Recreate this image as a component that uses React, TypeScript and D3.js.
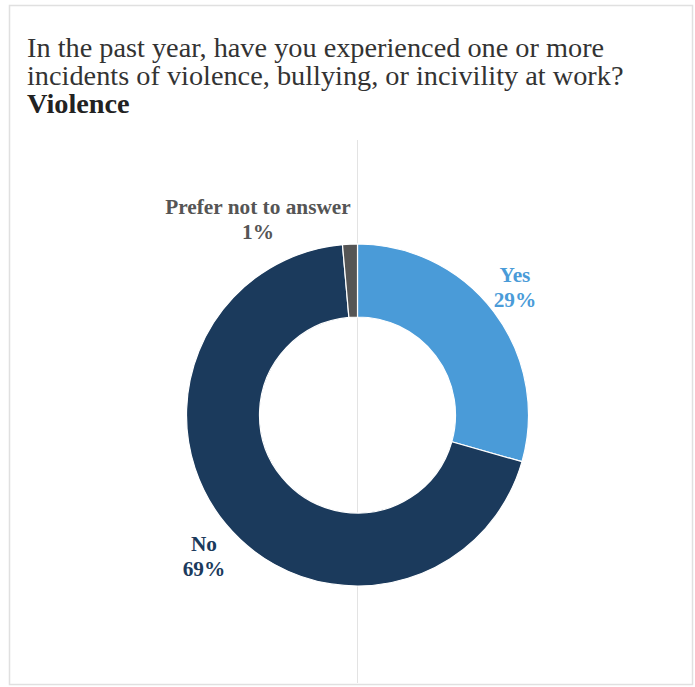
import React from "react";
import * as d3 from "d3";

const categories = ["Yes", "No", "Prefer not to answer"];
const values = [29.4, 69.2, 1.4];
const colors = ["#4a9bd8", "#1b3a5c", "#555555"];
const titleLines = [
  "In the past year, have you experienced one or more",
  "incidents of violence, bullying, or incivility at work?",
];
const subtitle = "Violence";

const W = 695;
const H = 687;
const cx = 357.5;
const cy = 415;
const outerR = 171;
const innerR = 98;

export default function App() {
  const data = categories.map((c, i) => ({ name: c, value: values[i], color: colors[i] }));
  const pie = d3.pie<any>().sort(null).value((d) => d.value);
  const arcs = pie(data);
  const arcGen = d3.arc<any>().innerRadius(innerR).outerRadius(outerR);

  const labelPos: Record<string, [number, number]> = {
    Yes: [515, 282],
    No: [204, 551],
    "Prefer not to answer": [258, 214],
  };

  return (
    <svg
      width={W}
      height={H}
      style={{ position: "absolute", left: 0, top: 0, background: "#fff" }}
      fontFamily="'Liberation Serif', 'Times New Roman', serif"
    >
      <rect x={9.5} y={5.5} width={683} height={679} fill="#fff" stroke="#e0e0e0" strokeWidth={1.5} />
      <line x1={cx} x2={cx} y1={140} y2={683} stroke="#e3e3e3" strokeWidth={1} />
      {titleLines.map((t, i) => (
        <text key={i} x={27} y={57 + i * 28} fontSize={28.3} fill="#333">
          {t}
        </text>
      ))}
      <text x={27} y={113} fontSize={28.3} fontWeight="bold" fill="#222">
        {subtitle}
      </text>
      <g transform={`translate(${cx},${cy})`}>
        {arcs.map((a, i) => (
          <path key={i} d={arcGen(a) as string} fill={a.data.color} stroke="#fff" strokeWidth={1.2} />
        ))}
      </g>
      {arcs.map((a, i) => {
        const [x, y] = labelPos[a.data.name];
        return (
          <text
            key={i}
            x={x}
            y={y}
            textAnchor="middle"
            fontSize={21.3}
            fontWeight="bold"
            fill={a.data.color}
          >
            <tspan x={x} dy={0}>{a.data.name}</tspan>
            <tspan x={x} dy={25}>{Math.round(a.data.value)}%</tspan>
          </text>
        );
      })}
    </svg>
  );
}
